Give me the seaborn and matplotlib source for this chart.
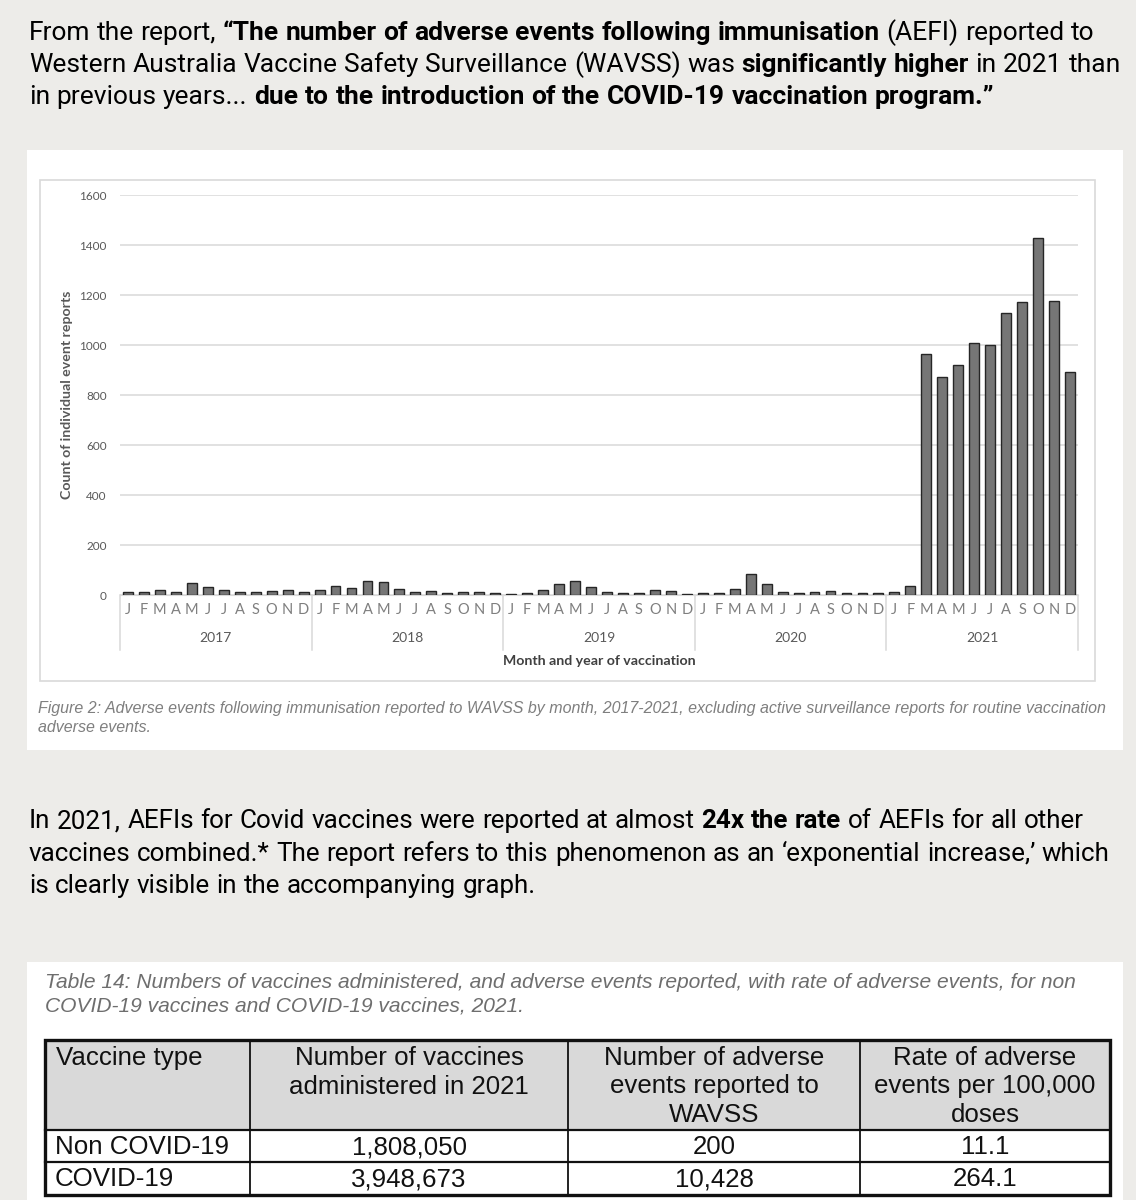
import matplotlib
matplotlib.use("Agg")
import matplotlib.pyplot as plt
import matplotlib.transforms as mtransforms
from matplotlib.patches import Rectangle
from matplotlib.lines import Line2D
import numpy as np
import pandas as pd
import seaborn as sns

# ---------------- data ----------------
years = ["2017", "2018", "2019", "2020", "2021"]
month_letters = ["J", "F", "M", "A", "M", "J", "J", "A", "S", "O", "N", "D"]
aefi_2017 = [13, 13, 20, 13, 48, 32, 20, 13, 13, 16, 21, 13]
aefi_2018 = [20, 36, 27, 57, 51, 25, 13, 16, 9, 13, 13, 8]
aefi_2019 = [5, 9, 20, 45, 56, 32, 13, 9, 9, 20, 16, 5]
aefi_2020 = [9, 9, 23, 83, 45, 13, 9, 13, 16, 7, 7, 7]
aefi_2021 = [13, 36, 964, 873, 922, 1009, 1000, 1129, 1172, 1428, 1178, 894]
y_ticks = [0, 200, 400, 600, 800, 1000, 1200, 1400, 1600]

table_header = ["Vaccine type", "Number of vaccines\nadministered in 2021",
                "Number of adverse\nevents reported to\nWAVSS",
                "Rate of adverse\nevents per 100,000\ndoses"]
vaccine_types = ["Non COVID-19", "COVID-19"]
doses_2021 = ["1,808,050", "3,948,673"]
events_reported = ["200", "10,428"]
rate_per_100k = ["11.1", "264.1"]

para1 = [
    [("From the report,", False), ("\u201cThe number of adverse events following immunisation", True),
     ("(AEFI) reported to", False)],
    [("Western Australia Vaccine Safety Surveillance (WAVSS) was", False),
     ("significantly higher", True), ("in 2021 than", False)],
    [("in previous years...", False),
     ("due to the introduction of the COVID-19 vaccination program.\u201d", True)],
]
para2 = [
    [("In 2021, AEFIs for Covid vaccines were reported at almost", False), ("24x the rate", True),
     ("of AEFIs for all other", False)],
    [("vaccines combined.* The report refers to this phenomenon as an \u2018exponential increase,\u2019 which", False)],
    [("is clearly visible in the accompanying graph.", False)],
]
fig_caption = ["Figure 2: Adverse events following immunisation reported to WAVSS by month, 2017-2021, excluding active surveillance reports for routine vaccination",
               "adverse events."]
table_caption = ["Table 14: Numbers of vaccines administered, and adverse events reported, with rate of adverse events, for non",
                 "COVID-19 vaccines and COVID-19 vaccines, 2021."]

# ---------------- figure ----------------
W, H = 1136, 1200
BG = "#EDECE9"
fig = plt.figure(figsize=(W / 100, H / 100), dpi=100, facecolor=BG)
renderer = fig.canvas.get_renderer()


def fx(x):
    return x / W


def fy(y):
    return 1 - y / H


def text_width(s, **kw):
    t = fig.text(0, 0, s, **kw)
    w = t.get_window_extent(renderer).width
    t.remove()
    return w


def fit_size(s, target, **kw):
    base = 20
    return base * target / text_width(s, fontsize=base, **kw)


def rect_px(x0, y0, x1, y1, **kw):
    r = Rectangle((fx(x0), fy(y1)), (x1 - x0) / W, (y1 - y0) / H,
                  transform=fig.transFigure, **kw)
    fig.add_artist(r)
    return r


# ---------- rich paragraphs ----------
PFAM = ["Roboto", "DejaVu Sans"]
REG_W = "normal"


def line_words(line):
    words = []
    for seg, bold in line:
        for w in seg.split(" "):
            words.append((w, bold))
    return words


def word_kw(size, bold):
    return dict(fontsize=size, family=PFAM, fontweight="bold" if bold else REG_W)


def line_width(line, size):
    total = 0
    words = line_words(line)
    for i, (w, b) in enumerate(words):
        kw = word_kw(size, b)
        total += text_width(w, **kw)
        if i < len(words) - 1:
            total += text_width("a a", **kw) - text_width("aa", **kw)
    return total


def draw_para(lines, x0, baselines, size, color="#000000"):
    for line, yb in zip(lines, baselines):
        x = x0
        words = line_words(line)
        for i, (w, b) in enumerate(words):
            kw = word_kw(size, b)
            t = fig.text(fx(x), fy(yb), w, ha="left", va="baseline", color=color, **kw)
            x += t.get_window_extent(renderer).width
            if i < len(words) - 1:
                x += text_width("a a", **kw) - text_width("aa", **kw)


psize1 = 10 * (1120 - 29) / line_width(para1[1], 10)
psize2 = 10 * (1114 - 29) / line_width(para2[1], 10)
draw_para(para1, 29, [40, 72, 104], psize1)
draw_para(para2, 29, [828, 861, 893], psize2)

# ---------- white panels ----------
rect_px(27, 150, 1123, 750, facecolor="white", edgecolor="none", zorder=0)
rect_px(27, 962, 1123, 1200, facecolor="white", edgecolor="none", zorder=0)
rect_px(40, 180, 1095, 681, facecolor="none", edgecolor="#D9D9D9", lw=1.2, zorder=1)

# ---------- bar chart ----------
CFAM = ["Lato", "DejaVu Sans"]
counts = aefi_2017 + aefi_2018 + aefi_2019 + aefi_2020 + aefi_2021
periods = [f"{y}-{m:02d}" for y in years for m in range(1, 13)]
df = pd.DataFrame({"period": periods, "count": counts})

ax_l, ax_r, ax_b, ax_t = 120, 1078, 595, 195
ax = fig.add_axes([fx(ax_l), fy(ax_b), (ax_r - ax_l) / W, (ax_b - ax_t) / H])
ax.set_facecolor("none")
sns.barplot(data=df, x="period", y="count", ax=ax, color="#767676", saturation=1,
            edgecolor="#262626", linewidth=1.0, width=0.62, zorder=3)
ax.set_ylim(0, 1600)
ax.set_xlim(-0.5, len(periods) - 0.5)
ax.set_yticks(y_ticks)
ax.yaxis.grid(True, color="#D9D9D9", lw=1.1)
ax.xaxis.grid(False)
ax.set_axisbelow(True)
for s in ["top", "right", "left"]:
    ax.spines[s].set_visible(False)
ax.spines["bottom"].set_color("#D9D9D9")
ax.set_xticks(range(len(periods)))
ax.set_xticklabels(month_letters * len(years))
ax.tick_params(axis="y", length=0, pad=9.5, labelsize=8.5, labelcolor="#595959")
ax.tick_params(axis="x", length=0, pad=6, labelsize=10.5, labelcolor="#7F7F7F")
for lab in ax.get_xticklabels() + ax.get_yticklabels():
    lab.set_family(CFAM)
ax.set_xlabel("")
ax.set_ylabel("Count of individual event reports", fontsize=10.2, color="#595959",
              fontweight="bold", family=CFAM)
ax.yaxis.set_label_coords((73 - ax_l) / (ax_r - ax_l), 0.5)

blend = mtransforms.blended_transform_factory(ax.transData, ax.transAxes)
span = ax_b - ax_t
for i in range(len(years) + 1):
    xb = i * 12 - 0.5
    ax.add_line(Line2D([xb, xb], [0, -(650 - ax_b) / span], transform=blend,
                       color="#D9D9D9", lw=1.1, clip_on=False))
for i, yr in enumerate(years):
    ax.text(i * 12 + 5.5, -(638 - ax_b) / span, yr, transform=blend, ha="center", va="center",
            fontsize=10, color="#595959", family=CFAM)
ax.text(0.5, -(661 - ax_b) / span, "Month and year of vaccination", transform=ax.transAxes,
        ha="center", va="center", fontsize=10.2, color="#404040", fontweight="bold", family=CFAM)

# ---------- figure caption ----------
CAPFAM = ["Liberation Sans", "DejaVu Sans"]
csize = fit_size(fig_caption[0], 1107 - 38, family=CAPFAM, style="italic")
for s, yc in zip(fig_caption, [709, 727]):
    fig.text(fx(38), fy(yc), s, ha="left", va="center", fontsize=csize, style="italic",
             family=CAPFAM, color="#7F7F7F")

# ---------- table caption ----------
tsize = fit_size(table_caption[0], 1075 - 45, family=CAPFAM, style="italic")
for s, yc in zip(table_caption, [983, 1006]):
    fig.text(fx(45), fy(yc), s, ha="left", va="center", fontsize=tsize, style="italic",
             family=CAPFAM, color="#6E6E6E")

# ---------- table ----------
TFAM = ["Liberation Sans Narrow", "Liberation Sans", "DejaVu Sans"]
col_x = [45, 250, 568, 860, 1110]
row_y = [1040, 1130, 1162, 1195]
cell_size = fit_size("administered in 2021", 240, family=TFAM)

rect_px(col_x[0], row_y[0], col_x[-1], row_y[1], facecolor="#D9D9D9", edgecolor="none", zorder=1)
for xv in col_x[1:-1]:
    fig.add_artist(Line2D([fx(xv), fx(xv)], [fy(row_y[0]), fy(row_y[-1])], transform=fig.transFigure,
                          color="#111111", lw=1.3, zorder=3))
for yv in row_y[1:-1]:
    fig.add_artist(Line2D([fx(col_x[0]), fx(col_x[-1])], [fy(yv), fy(yv)], transform=fig.transFigure,
                          color="#111111", lw=1.6, zorder=3))
rect_px(col_x[0], row_y[0], col_x[-1], row_y[-1], facecolor="none", edgecolor="#111111", lw=2.4, zorder=4)

line_pitch = 28.5
for ci, head in enumerate(table_header):
    for li, ln in enumerate(head.split("\n")):
        yc = 1058 + li * line_pitch
        if ci == 0:
            fig.text(fx(col_x[0] + 11), fy(yc), ln, ha="left", va="center", fontsize=cell_size,
                     family=TFAM, color="#111111", zorder=5)
        else:
            fig.text(fx((col_x[ci] + col_x[ci + 1]) / 2), fy(yc), ln, ha="center", va="center",
                     fontsize=cell_size, family=TFAM, color="#111111", zorder=5)

for ri in range(len(vaccine_types)):
    yc = (row_y[ri + 1] + row_y[ri + 2]) / 2 + 1
    vals = [vaccine_types[ri], doses_2021[ri], events_reported[ri], rate_per_100k[ri]]
    for ci, v in enumerate(vals):
        if ci == 0:
            fig.text(fx(col_x[0] + 10), fy(yc), v, ha="left", va="center", fontsize=cell_size,
                     family=TFAM, color="#111111", zorder=5)
        else:
            fig.text(fx((col_x[ci] + col_x[ci + 1]) / 2), fy(yc), v, ha="center", va="center",
                     fontsize=cell_size, family=TFAM, color="#111111", zorder=5)

fig.savefig("out.png", dpi=100, facecolor=BG)
